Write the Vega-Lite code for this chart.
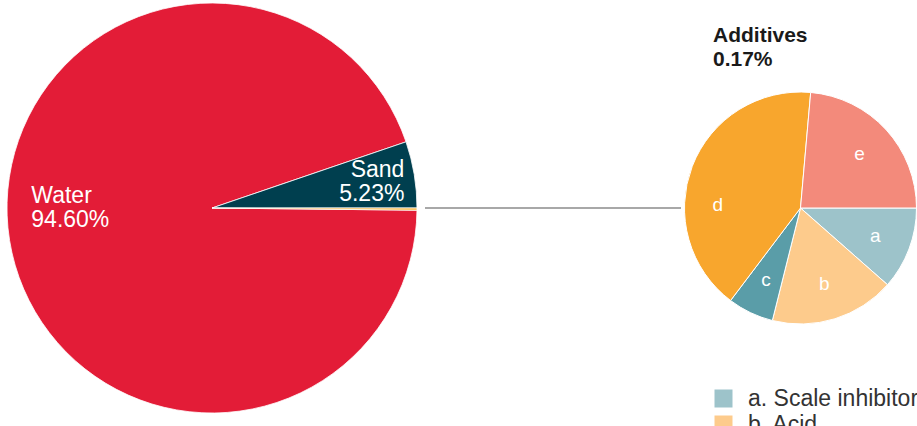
{
  "$schema": "https://vega.github.io/schema/vega-lite/v6.json",
  "padding": 0,
  "spacing": 0,
  "background": "white",
  "config": {"view": {"stroke": null}, "font": "Liberation Sans"},
  "resolve": {"scale": {"color": "independent", "theta": "independent"}, "legend": {"color": "independent"}},
  "hconcat": [
    {
      "width": 424,
      "height": 416,
      "data": {"values": [
        {"part": "Water", "share": 94.60, "label": ["Water", "94.60%"]},
        {"part": "Sand", "share": 5.23, "label": ["Sand", "5.23%"]},
        {"part": "Additives", "share": 0.17, "label": ""}
      ]},
      "encoding": {
        "theta": {"field": "share", "type": "quantitative", "stack": true, "scale": {"range": [1.58148, 7.86467]}},
        "order": {"field": "part", "type": "ordinal", "sort": "descending"},
        "detail": {"field": "part", "type": "nominal"}
      },
      "layer": [
        {
          "mark": {"type": "arc", "outerRadius": 205, "stroke": "white", "strokeWidth": 0.8},
          "encoding": {
            "color": {"field": "part", "type": "nominal", "legend": null,
              "scale": {"domain": ["Water", "Sand", "Additives"], "range": ["#E31C37", "#003F4F", "#F9B332"]}}
          }
        },
        {
          "mark": {"type": "text", "radius": 183, "align": "left", "baseline": "middle", "dy": -41, "fontSize": 23, "lineHeight": 24, "fill": "white", "font": "Liberation Sans"},
          "encoding": {"text": {"condition": {"test": "datum.part === 'Water'", "field": "label", "type": "nominal"}, "value": ""}}
        },
        {
          "mark": {"type": "text", "radius": 195, "align": "right", "baseline": "middle", "dy": -6, "fontSize": 23, "lineHeight": 24, "fill": "white", "font": "Liberation Sans"},
          "encoding": {"text": {"condition": {"test": "datum.part === 'Sand'", "field": "label", "type": "nominal"}, "value": ""}}
        }
      ]
    },
    {
      "width": 256,
      "height": 416,
      "data": {"values": [{"level": 0}]},
      "mark": {"type": "rule", "stroke": "#a8a8a8", "strokeWidth": 2},
      "encoding": {"y": {"field": "level", "type": "quantitative", "scale": {"domain": [-1, 1]}, "axis": null}}
    },
    {
      "width": 237,
      "height": 416,
      "title": {"text": ["Additives", "0.17%"], "anchor": "start", "frame": "group", "dx": 31, "dy": 70, "offset": 0, "fontSize": 21, "fontWeight": "bold", "lineHeight": 24, "color": "#1a1a1a", "font": "Liberation Sans"},
      "data": {"values": [
        {"key": "a", "name": "a. Scale inhibitor", "share": 11.5},
        {"key": "b", "name": "b. Acid", "share": 17.4},
        {"key": "c", "name": "c. Iron control", "share": 6.4},
        {"key": "d", "name": "d. Friction reducer", "share": 41.1},
        {"key": "e", "name": "e. Surfactant", "share": 23.6}
      ]},
      "encoding": {
        "theta": {"field": "share", "type": "quantitative", "stack": true, "scale": {"range": [1.5708, 7.85398]}},
        "order": {"field": "key", "type": "ordinal"},
        "detail": {"field": "key", "type": "nominal"}
      },
      "layer": [
        {
          "mark": {"type": "arc", "outerRadius": 116, "stroke": "white", "strokeWidth": 1},
          "encoding": {
            "color": {"field": "name", "type": "nominal",
              "scale": {"domain": ["a. Scale inhibitor", "b. Acid", "c. Iron control", "d. Friction reducer", "e. Surfactant"],
                        "range": ["#9DC3CA", "#FDCB8C", "#5A9DA8", "#F8A62D", "#F38A7B"]},
              "legend": {"title": null, "orient": "none", "legendX": 30, "legendY": 387, "symbolType": "square", "symbolSize": 324,
                         "symbolStrokeWidth": 0, "symbolOpacity": 1, "labelFontSize": 23, "labelFont": "Liberation Sans",
                         "labelColor": "#333333", "labelOffset": 13, "rowPadding": 2, "labelLimit": 300}
            }
          }
        },
        {
          "mark": {"type": "text", "radius": 80, "fontSize": 19, "fill": "white", "font": "Liberation Sans"},
          "encoding": {"text": {"condition": {"test": "datum.key !== 'd'", "field": "key", "type": "nominal"}, "value": ""}}
        },
        {
          "mark": {"type": "text", "radius": 80, "dx": -8, "dy": 26, "fontSize": 19, "fill": "white", "font": "Liberation Sans"},
          "encoding": {"text": {"condition": {"test": "datum.key === 'd'", "field": "key", "type": "nominal"}, "value": ""}}
        }
      ]
    }
  ]
}
